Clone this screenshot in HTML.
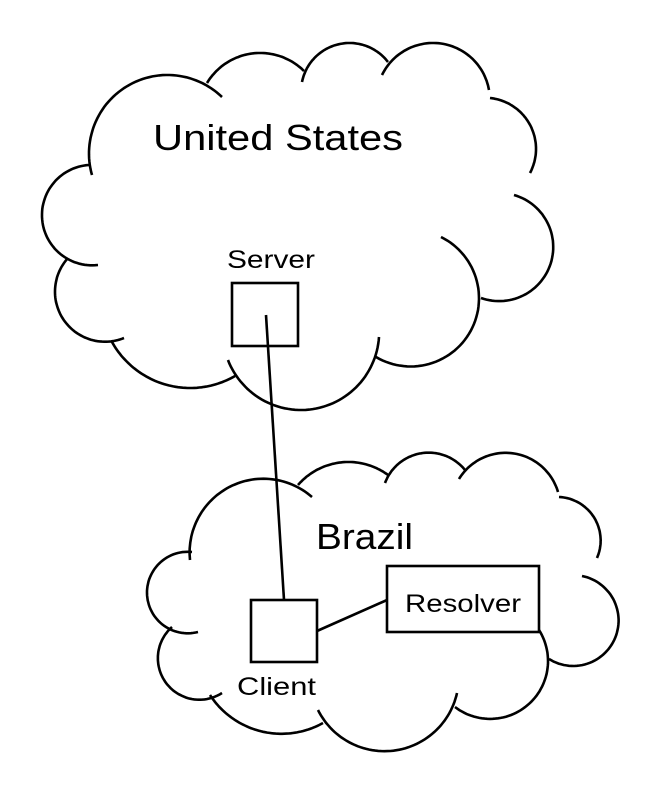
<!DOCTYPE html>
<html><head><meta charset="utf-8"><style>
html,body{margin:0;padding:0;background:#fff;}
svg{display:block;}
text{font-family:"Liberation Sans",sans-serif;fill:#000;}
</style></head><body>
<svg id="s" width="662" height="806" viewBox="0 0 662 806" xmlns="http://www.w3.org/2000/svg">
<g id="clouds" fill="none" stroke="#000" stroke-width="2.6" stroke-linecap="butt"></g>
<g fill="none" stroke="#000" stroke-width="2.6">
<rect x="232" y="283" width="66" height="63"/>
<rect x="251" y="600" width="66" height="62"/>
<rect x="387" y="566" width="152" height="66"/>
<line x1="266" y1="315" x2="284" y2="600"/>
<line x1="317" y1="631" x2="387" y2="600"/>
</g>
<text x="153" y="150" font-size="36" textLength="250" lengthAdjust="spacingAndGlyphs">United States</text>
<text x="227" y="268" font-size="25" textLength="88" lengthAdjust="spacingAndGlyphs">Server</text>
<text x="316" y="549" font-size="36" textLength="97" lengthAdjust="spacingAndGlyphs">Brazil</text>
<text x="405" y="612" font-size="25" textLength="116" lengthAdjust="spacingAndGlyphs">Resolver</text>
<text x="237" y="695" font-size="25" textLength="79" lengthAdjust="spacingAndGlyphs">Client</text>
</svg>
<script>
var bumps=[
[[98,265],[42,213],[89,165]],
[[92,175],[167,75],[222,97]],
[[207,83],[262,53],[304,71]],
[[302,82],[350,43],[388,62]],
[[382,75],[435,43],[489,90]],
[[490,98],[536,150],[530,173]],
[[514,195],[546,220],[481,298]],
[[441,237],[479,298],[376,357]],
[[379,337],[300,410],[228,360]],
[[235,376],[190,388],[112,342]],
[[124,338],[55,293],[68,258]],
[[198,632],[147,592],[192,552]],
[[190,560],[257,479],[312,497]],
[[298,485],[347,462],[388,475]],
[[385,483],[423,453],[465,470]],
[[459,479],[510,453],[558,492]],
[[559,497],[600,533],[597,558]],
[[582,576],[612,597],[549,659]],
[[539,630],[548,660],[455,707]],
[[457,693],[390,751],[318,710]],
[[323,723],[270,733],[210,695]],
[[222,693],[158,655],[172,627]]
];
function circ(a,b,c){var ax=a[0],ay=a[1],bx=b[0],by=b[1],cx=c[0],cy=c[1];
var d=2*(ax*(by-cy)+bx*(cy-ay)+cx*(ay-by));
var ux=((ax*ax+ay*ay)*(by-cy)+(bx*bx+by*by)*(cy-ay)+(cx*cx+cy*cy)*(ay-by))/d;
var uy=((ax*ax+ay*ay)*(cx-bx)+(bx*bx+by*by)*(ax-cx)+(cx*cx+cy*cy)*(bx-ax))/d;
return [ux,uy,Math.hypot(ax-ux,ay-uy)];}
var g=document.getElementById('clouds'),T=2*Math.PI;
bumps.forEach(function(b){var c=circ(b[0],b[1],b[2]);
var aS=Math.atan2(b[0][1]-c[1],b[0][0]-c[0]),aP=Math.atan2(b[1][1]-c[1],b[1][0]-c[0]),aE=Math.atan2(b[2][1]-c[1],b[2][0]-c[0]);
function n(x){return ((x%T)+T)%T;}
var dE=n(aE-aS),dP=n(aP-aS),span;
if(dP<=dE){span=dE;}else{span=dE-T;}
var pts=[];for(var i=0;i<=60;i++){var a=aS+span*i/60;pts.push((c[0]+c[2]*Math.cos(a)).toFixed(1)+','+(c[1]+c[2]*Math.sin(a)).toFixed(1));}
var p=document.createElementNS('http://www.w3.org/2000/svg','polyline');p.setAttribute('points',pts.join(' '));g.appendChild(p);});
</script>
</body></html>
